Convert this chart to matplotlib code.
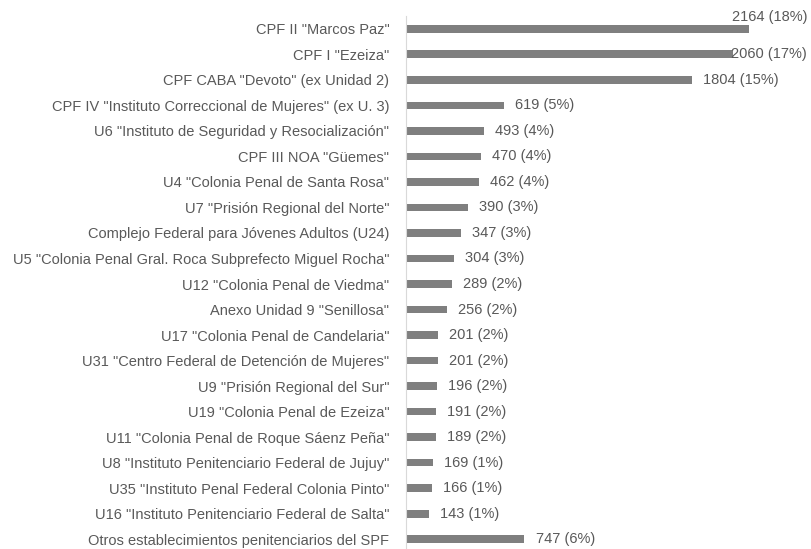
import matplotlib
matplotlib.use("Agg")
import matplotlib.pyplot as plt

plt.rcParams['font.family'] = ['Liberation Sans', 'DejaVu Sans']

names = [
    'CPF II "Marcos Paz"',
    'CPF I "Ezeiza"',
    'CPF CABA "Devoto" (ex Unidad 2)',
    'CPF IV "Instituto Correccional de Mujeres" (ex U. 3)',
    'U6 "Instituto de Seguridad y Resocialización"',
    'CPF III NOA "Güemes"',
    'U4 "Colonia Penal de Santa Rosa"',
    'U7 "Prisión Regional del Norte"',
    'Complejo Federal para Jóvenes Adultos (U24)',
    'U5 "Colonia Penal Gral. Roca Subprefecto Miguel Rocha"',
    'U12 "Colonia Penal de Viedma"',
    'Anexo Unidad 9 "Senillosa"',
    'U17 "Colonia Penal de Candelaria"',
    'U31 "Centro Federal de Detención de Mujeres"',
    'U9 "Prisión Regional del Sur"',
    'U19 "Colonia Penal de Ezeiza"',
    'U11 "Colonia Penal de Roque Sáenz Peña"',
    'U8 "Instituto Penitenciario Federal de Jujuy"',
    'U35 "Instituto Penal Federal Colonia Pinto"',
    'U16 "Instituto Penitenciario Federal de Salta"',
    'Otros establecimientos penitenciarios del SPF',
]
values = [2164, 2060, 1804, 619, 493, 470, 462, 390, 347, 304, 289,
          256, 201, 201, 196, 191, 189, 169, 166, 143, 747]
pcts = [18, 17, 15, 5, 4, 4, 4, 3, 3, 3, 2, 2, 2, 2, 2, 2, 2, 1, 1, 1, 6]

txt = '#595959'
fs = 10.5
fig = plt.figure(figsize=(8.11, 5.49), dpi=100)
ax = fig.add_axes([406 / 811, -3 / 549, 405 / 811, 536 / 549])

y = list(range(len(names)))
ax.barh(y, values, height=0.3, color='#7f7f7f')
ax.set_xlim(0, 2555)
ax.set_ylim(len(names) - 0.5, -0.5)
ax.set_yticks(y)
ax.set_yticklabels(names, fontsize=fs, color=txt)
ax.tick_params(axis='y', length=0, pad=12)
ax.set_xticks([])
for s in ['top', 'right', 'bottom']:
    ax.spines[s].set_visible(False)
ax.spines['left'].set_color('#d9d9d9')

# the two longest bars get their labels pushed against the right edge
for i, (v, p) in enumerate(zip(values, pcts)):
    lab = f'{v} ({p}%)'
    if i < 2:
        ax.annotate(lab, xy=(807 / 811, i - 0.45 * (i == 0)),
                    xycoords=('figure fraction', 'data'),
                    ha='right', va='center', fontsize=fs, color=txt)
    else:
        ax.annotate(lab, xy=(v, i), xytext=(8, 0), textcoords='offset points',
                    ha='left', va='center', fontsize=fs, color=txt)

fig.savefig('out.png', dpi=100)
